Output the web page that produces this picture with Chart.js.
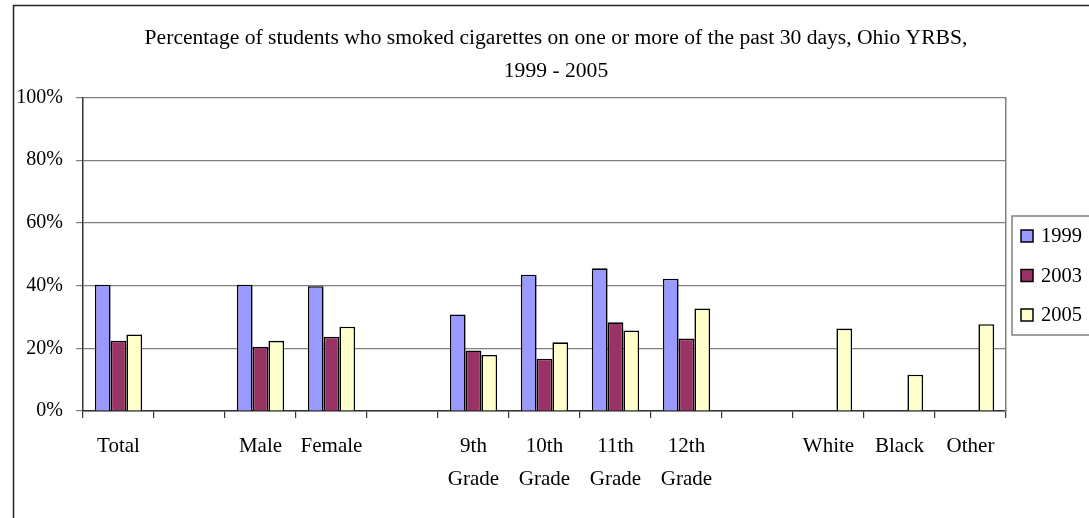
<!DOCTYPE html>
<html>
<head>
<meta charset="utf-8">
<script src="https://cdn.jsdelivr.net/npm/chart.js@4.4.0/dist/chart.umd.min.js"></script>
<style>
  html, body { margin: 0; padding: 0; background: #fff; overflow: hidden; }
</style>
</head>
<body>
<canvas id="myChart" width="1100" height="518"></canvas>
<script>
// chart data
const categories = [['Total'], '', ['Male'], ['Female'], '', ['9th', 'Grade'], ['10th', 'Grade'], ['11th', 'Grade'], ['12th', 'Grade'], '', ['White'], ['Black'], ['Other']];
const seriesLabels = ['1999', '2003', '2005'];
const values1999 = [40.3, null, 40.3, 39.8, null, 30.8, 43.5, 45.5, 42.2, null, null, null, null];
const values2003 = [22.4, null, 20.5, 23.7, null, 19.3, 16.7, 28.3, 23.1, null, null, null, null];
const values2005 = [24.4, null, 22.4, 26.9, null, 17.9, 21.9, 25.7, 32.7, null, 26.3, 11.6, 27.7];
const yTicks = [0, 20, 40, 60, 80, 100];
const titleLines = ['Percentage of students who smoked cigarettes on one or more of the past 30 days, Ohio YRBS,', '1999 - 2005'];

const colors = ['#9999ff', '#993366', '#ffffcc'];
const FONT = "'Liberation Serif', 'Times New Roman', serif";
Chart.defaults.font.family = FONT;
Chart.defaults.color = '#000';

// white page + outer chart frame
const frame = {
     id: 'frame',
     beforeDraw(chart) {
          const ctx = chart.ctx;
          ctx.save();
          ctx.fillStyle = '#fff';
          ctx.fillRect(0, 0, chart.width, chart.height);
          ctx.strokeStyle = '#222';
          ctx.lineWidth = 1.5;
          ctx.beginPath();
          ctx.moveTo(13.5, chart.height);
          ctx.lineTo(13.5, 5.5);
          ctx.lineTo(chart.width, 5.5);
          ctx.stroke();
          ctx.restore();
     }
};

// boxed legend on the right, like the spreadsheet one
const legendBox = {
     id: 'legendBox',
     afterDraw(chart) {
          const ctx = chart.ctx;
          const x0 = chart.chartArea.right + 6;
          const y0 = 216;
          ctx.save();
          ctx.fillStyle = '#fff';
          ctx.fillRect(x0, y0, 100, 119);
          ctx.strokeStyle = '#808080';
          ctx.lineWidth = 1.5;
          ctx.strokeRect(x0, y0, 100, 119);
          ctx.font = '20.5px ' + FONT;
          ctx.textBaseline = 'middle';
          chart.data.datasets.forEach((ds, i) => {
               const cy = 236 + i * 39.5;
               ctx.fillStyle = ds.backgroundColor;
               ctx.fillRect(x0 + 9, cy - 6, 12, 12);
               ctx.strokeStyle = '#000';
               ctx.lineWidth = 1.5;
               ctx.strokeRect(x0 + 9, cy - 6, 12, 12);
               ctx.fillStyle = '#000';
               ctx.fillText(ds.label, x0 + 29, cy + 1);
          });
          ctx.restore();
     }
};

const data = {
     labels: categories,
     datasets: [values1999, values2003, values2005].map((vals, i) => ({
          label: seriesLabels[i],
          data: vals,
          backgroundColor: colors[i],
          borderColor: '#000',
          borderWidth: 1.6,
          borderSkipped: 'start',
          categoryPercentage: 0.667,
          barPercentage: 1.0
     }))
};

const config = {
     type: 'bar',
     data: data,
     options: {
          responsive: false,
          animation: false,
          devicePixelRatio: 1,
          layout: { padding: { left: 12, right: 0, top: 5, bottom: 11 } },
          plugins: {
               legend: { display: false },
               tooltip: { enabled: false },
               title: {
                    display: true,
                    text: titleLines,
                    color: '#000',
                    font: { family: FONT, size: 21.6, weight: 'normal', lineHeight: 1.528 },
                    padding: { top: 16.5, bottom: 10 }
               }
          },
          scales: {
               x: {
                    grid: { drawOnChartArea: false, drawTicks: true, tickLength: 7, color: '#333', lineWidth: 1.2 },
                    border: { color: '#333', width: 1.5 },
                    ticks: {
                         autoSkip: false, maxRotation: 0, padding: 11.5, color: '#000',
                         font: { size: 21, lineHeight: 1.571 }
                    }
               },
               y: {
                    min: yTicks[0],
                    max: yTicks[yTicks.length - 1],
                    afterBuildTicks: (s) => { s.ticks = yTicks.map(v => ({ value: v })); },
                    afterFit: (s) => { s.width = 71; },
                    grid: { color: '#7f7f7f', lineWidth: 1.2, tickLength: 7 },
                    border: { color: '#333', width: 1.5 },
                    ticks: { padding: 13, color: '#000', font: { size: 20 }, callback: (v) => v + '%' }
               },
               y2: {
                    position: 'right',
                    afterFit: (s) => { s.width = 94; },
                    grid: { display: false },
                    border: { display: true, color: '#808080', width: 1.5 },
                    ticks: { display: false }
               }
          }
     },
     plugins: [frame, legendBox]
};

const myChart = new Chart(document.getElementById('myChart'), config);
</script>
</body>
</html>
